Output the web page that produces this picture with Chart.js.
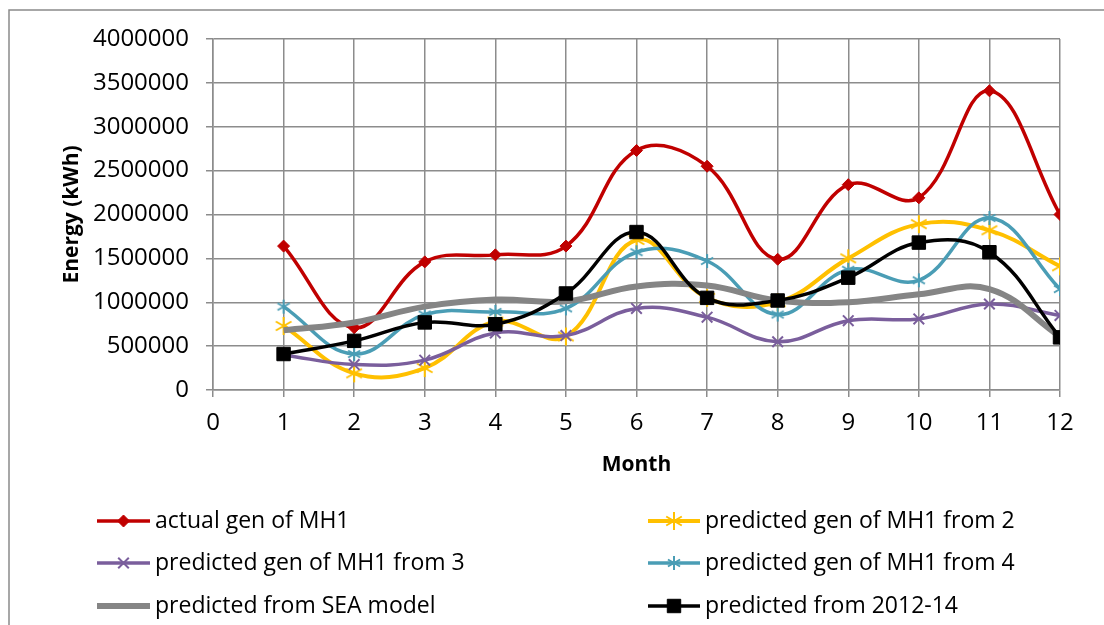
<!DOCTYPE html>
<html>
<head>
<meta charset="utf-8">
<script src="https://cdn.jsdelivr.net/npm/chart.js@4/dist/chart.umd.min.js"></script>
<style>
  html, body { margin: 0; padding: 0; background: #fff; }
  #wrap { position: relative; width: 1104px; height: 625px; }
</style>
</head>
<body>
<div id="wrap"><canvas id="c" width="1104" height="625"></canvas></div>
<script>
// Monthly generation (kWh) of MH1: actual vs. predictions
const months = [1, 2, 3, 4, 5, 6, 7, 8, 9, 10, 11, 12];
const actualGen   = [1640000, 710000, 1460000, 1540000, 1640000, 2730000, 2550000, 1490000, 2340000, 2190000, 3410000, 2000000];
const predFrom2   = [730000, 190000, 250000, 780000, 610000, 1710000, 1050000, 1000000, 1500000, 1890000, 1820000, 1410000];
const predFrom3   = [400000, 290000, 340000, 650000, 620000, 930000, 830000, 550000, 790000, 810000, 980000, 850000];
const predFrom4   = [950000, 410000, 860000, 890000, 930000, 1570000, 1470000, 860000, 1370000, 1250000, 1960000, 1150000];
const predSEA     = [680000, 770000, 950000, 1030000, 1010000, 1180000, 1190000, 1020000, 1000000, 1090000, 1150000, 610000];
const pred201214  = [410000, 560000, 770000, 750000, 1100000, 1800000, 1050000, 1020000, 1280000, 1680000, 1570000, 600000];

const seriesNames = [
  'actual gen of MH1',
  'predicted gen of MH1 from 2',
  'predicted gen of MH1 from 3',
  'predicted gen of MH1 from 4',
  'predicted from SEA model',
  'predicted from 2012-14'
];
const yTicks = [0, 500000, 1000000, 1500000, 2000000, 2500000, 3000000, 3500000, 4000000];

const FONT = "'Open Sans', 'Noto Sans', sans-serif";

// six-spoke asterisk marker (X plus a vertical stroke)
function asteriskMarker(color, size, lw) {
  const c = document.createElement('canvas');
  const s = size + lw * 2;
  c.width = s; c.height = s;
  const g = c.getContext('2d');
  g.strokeStyle = color; g.lineWidth = lw; g.lineCap = 'butt';
  const m = s / 2, r = size / 2;
  g.beginPath();
  g.moveTo(m, m - r); g.lineTo(m, m + r);
  const dx = r * 0.866, dy = r * 0.5;
  g.moveTo(m - dx, m - dy); g.lineTo(m + dx, m + dy);
  g.moveTo(m - dx, m + dy); g.lineTo(m + dx, m - dy);
  g.stroke();
  return c;
}

const toXY = arr => arr.map((v, i) => ({ x: months[i], y: v }));

const yellowStar = asteriskMarker('#FFC000', 18, 2);
const tealStar = asteriskMarker('#4A9DB5', 14, 2);

const datasets = [
  { label: seriesNames[0], data: toXY(actualGen), borderColor: '#C00000', backgroundColor: '#C00000',
    borderWidth: 3.5, pointStyle: 'rectRot', pointRadius: 6, pointBorderWidth: 1, order: 5 },
  { label: seriesNames[1], data: toXY(predFrom2), borderColor: '#FFC000', backgroundColor: '#FFC000',
    borderWidth: 4, pointStyle: yellowStar, pointRadius: 9, order: 4 },
  { label: seriesNames[2], data: toXY(predFrom3), borderColor: '#7A5E9C', backgroundColor: '#7A5E9C',
    borderWidth: 3.5, pointStyle: 'crossRot', pointRadius: 7.5, pointBorderWidth: 2, order: 3 },
  { label: seriesNames[3], data: toXY(predFrom4), borderColor: '#4A9DB5', backgroundColor: '#4A9DB5',
    borderWidth: 3.5, pointStyle: tealStar, pointRadius: 7, order: 2 },
  { label: seriesNames[4], data: toXY(predSEA), borderColor: '#858585', backgroundColor: '#858585',
    borderWidth: 6, pointRadius: 0, order: 1 },
  { label: seriesNames[5], data: toXY(pred201214), borderColor: '#000000', backgroundColor: '#000000',
    borderWidth: 3.5, pointStyle: 'rect', pointRadius: 9.5, pointBorderWidth: 1, order: 0 }
];

// frame around the figure
const framePlugin = {
  id: 'frame',
  beforeDraw(chart) {
    const ctx = chart.ctx;
    ctx.save();
    ctx.fillStyle = '#fff';
    ctx.fillRect(0, 0, chart.width, chart.height);
    ctx.strokeStyle = '#8a8a8a';
    ctx.lineWidth = 1.5;
    ctx.beginPath();
    ctx.moveTo(9, chart.height + 2);
    ctx.lineTo(9, 10);
    ctx.lineTo(chart.width + 2, 10);
    ctx.stroke();
    ctx.restore();
  }
};

// two-column legend below the plot
const legendPlugin = {
  id: 'legendBelow',
  afterDraw(chart) {
    const ctx = chart.ctx;
    const rows = [521, 563, 606];
    const cols = [{ x1: 97, x2: 150, tx: 155 }, { x1: 648, x2: 700, tx: 705 }];
    ctx.save();
    chart.data.datasets.forEach((ds, i) => {
      const row = rows[Math.floor(i / 2)];
      const col = cols[i % 2];
      ctx.strokeStyle = ds.borderColor;
      ctx.lineWidth = ds.borderWidth;
      ctx.beginPath();
      ctx.moveTo(col.x1, row);
      ctx.lineTo(col.x2, row);
      ctx.stroke();
      if (ds.pointRadius > 0) {
        ctx.fillStyle = ds.backgroundColor;
        ctx.strokeStyle = ds.borderColor;
        ctx.lineWidth = ds.pointBorderWidth || 1;
        Chart.helpers.drawPoint(ctx, {
          pointStyle: ds.pointStyle, rotation: 0,
          radius: ds.pointRadius, borderWidth: ds.pointBorderWidth || 1
        }, (col.x1 + col.x2) / 2, row);
      }
      ctx.fillStyle = '#000';
      ctx.font = '23px ' + FONT;
      ctx.textBaseline = 'middle';
      ctx.textAlign = 'left';
      ctx.fillText(ds.label, col.tx, row);
    });
    ctx.restore();
  }
};

new Chart(document.getElementById('c'), {
  type: 'line',
  data: { datasets },
  options: {
    responsive: false,
    animation: false,
    devicePixelRatio: 1,
    layout: { padding: { left: 0, right: 44, top: 39, bottom: 145 } },
    elements: { line: { tension: 0.4, fill: false } },
    plugins: { legend: { display: false }, tooltip: { enabled: false } },
    scales: {
      x: {
        type: 'linear', min: 0, max: 12,
        afterFit(scale) { scale.height = 90; },
        ticks: { stepSize: 1, color: '#000', font: { family: FONT, size: 24 }, padding: 12 },
        grid: { color: '#8c8c8c', lineWidth: 1.5, tickLength: 7 },
        border: { color: '#8c8c8c', width: 1.5 },
        title: { display: true, text: 'Month', color: '#000',
                 font: { family: FONT, size: 21, weight: 'bold' }, padding: { top: 0, bottom: 2 } }
      },
      y: {
        type: 'linear', min: 0, max: 4000000,
        afterFit(scale) { scale.width = 213; },
        afterBuildTicks(scale) { scale.ticks = yTicks.map(v => ({ value: v })); },
        ticks: { color: '#000', font: { family: FONT, size: 24 }, padding: 17,
                 callback: v => String(v) },
        grid: { color: '#8c8c8c', lineWidth: 1.5, tickLength: 7 },
        border: { color: '#8c8c8c', width: 1.5 },
        title: { display: true, text: 'Energy (kWh)', color: '#000',
                 font: { family: FONT, size: 21, weight: 'bold' }, padding: { top: 59, bottom: 0 } }
      }
    }
  },
  plugins: [framePlugin, legendPlugin]
});
</script>
</body>
</html>
